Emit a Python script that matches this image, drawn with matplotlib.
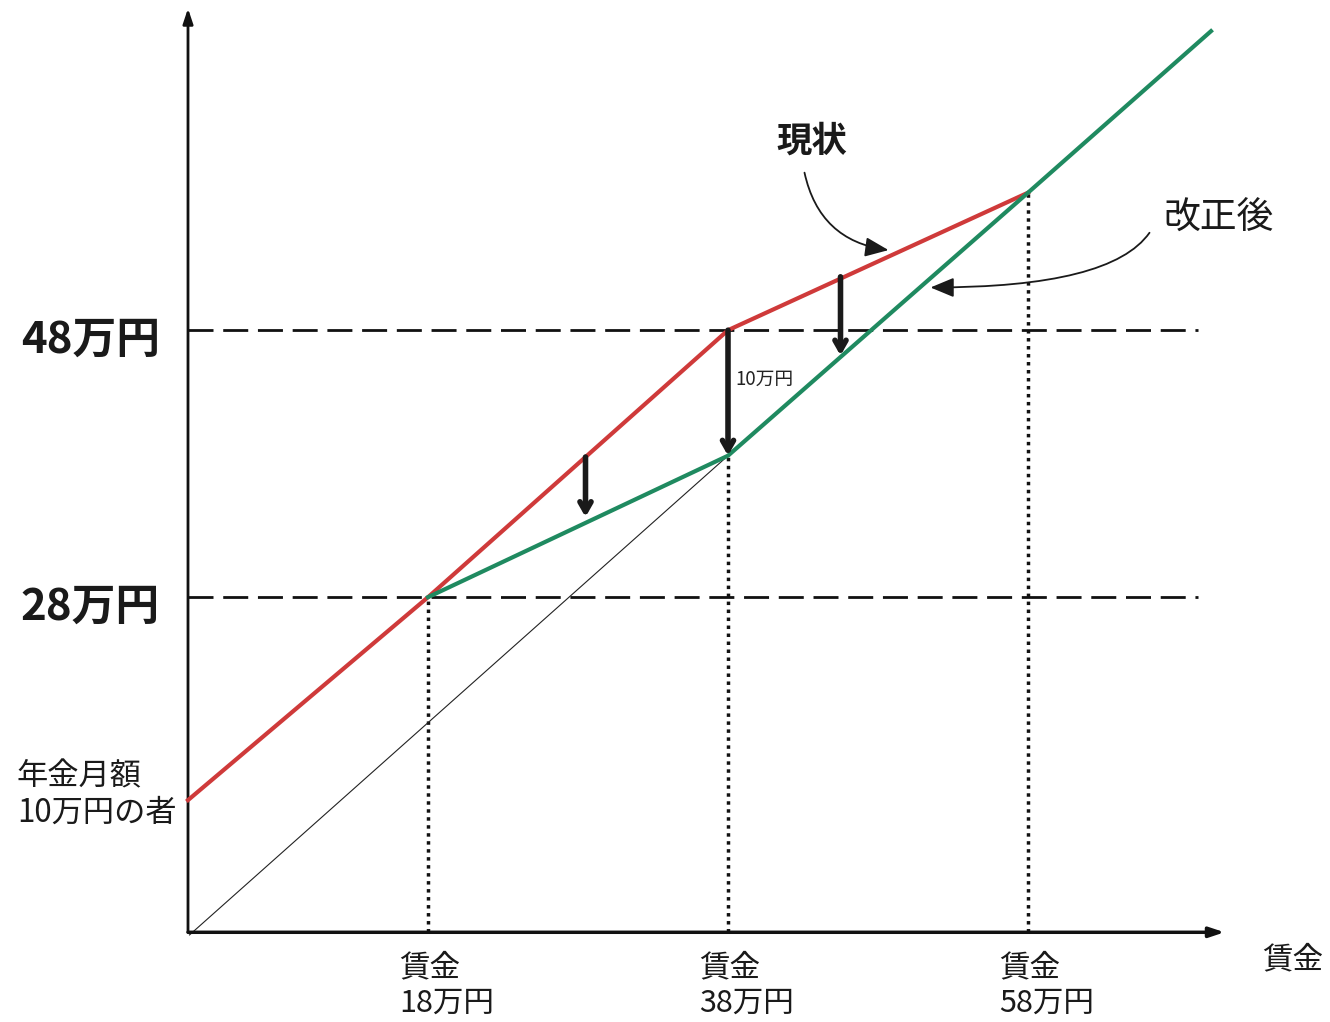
import numpy as np
import matplotlib
matplotlib.use('Agg')
import matplotlib.pyplot as plt

plt.rcParams['font.family'] = ['Noto Sans CJK JP', 'DejaVu Sans']

# schematic coordinates in 万円 (wage on x, wage + pension on y)
origin_x, origin_y = 2, 2.9
wage_ticks = [18, 38, 58]
wage_labels = ['賃金\n18万円', '賃金\n38万円', '賃金\n58万円']
levels = [28, 48]
level_labels = ['28万円', '48万円']

current_x = [2, 18, 38, 58]          # 現状
current_y = [12.8, 28, 48, 58.3]
revised_x = [18, 38, 58, 70.2]       # 改正後
revised_y = [28, 38.6, 58.3, 70.4]
diag_x = [2.1, 38]
diag_y = [2.7, 38.6]
dotted_top = [28, 38.6, 58.3]

arrow_x = [28.5, 38, 45.5]
arrow_from = [38.5, 48, 52.0]
arrow_to = [34.0, 38.6, 46.1]

red = '#cf3a3a'
green = '#1f8a60'

fig = plt.figure(figsize=(13.3, 10.22), dpi=100)
ax = fig.add_axes([0, 0, 1, 1])
ax.set_xlim(-158 / 15, (1330 - 158) / 15)
ax.set_ylim((971 - 1022) / 13.35, 971 / 13.35)
ax.axis('off')

# axes with arrow heads
ax.annotate('', xy=(origin_x, 72.1), xytext=(origin_x, origin_y),
            arrowprops=dict(arrowstyle='-|>,head_length=0.9,head_width=0.3', lw=2, color='#111111',
                            shrinkA=0, shrinkB=0))
ax.annotate('', xy=(71.1, origin_y), xytext=(origin_x, origin_y),
            arrowprops=dict(arrowstyle='-|>,head_length=0.9,head_width=0.3', lw=2.5, color='#111111',
                            shrinkA=0, shrinkB=0))

# reference levels
for lv in levels:
    ax.plot([origin_x, 69.3], [lv, lv], color='#111111', lw=2, linestyle=(0, (9, 3.5)), zorder=1)
for wx, top in zip(wage_ticks, dotted_top):
    ax.plot([wx, wx], [origin_y, top], color='#111111', lw=2.5, linestyle=(0, (1, 1.3)), zorder=1)

ax.plot(diag_x, diag_y, color='#222222', lw=0.8, zorder=2)
ax.plot(current_x, current_y, color=red, lw=3, zorder=3)
ax.plot(revised_x, revised_y, color=green, lw=3, zorder=3)

for x, y0, y1 in zip(arrow_x, arrow_from, arrow_to):
    ax.annotate('', xy=(x, y1), xytext=(x, y0),
                arrowprops=dict(arrowstyle='->,head_length=0.7,head_width=0.4', lw=4,
                                color='#1a1a1a', shrinkA=0, shrinkB=0), zorder=4)
ax.text(38.5, 44.3, '10万円', fontsize=13.5, ha='left', va='center', color='#222222')

# labels
for lv, lab in zip(levels, level_labels):
    ax.text(-4.5, lv - 0.7, lab, fontsize=31.5, fontweight='bold', ha='center', va='center', color='#1a1a1a')
ax.text(-9.4, 13.2, '年金月額\n10万円の者', fontsize=22.5, ha='left', va='center',
        linespacing=1.15, color='#1a1a1a')
for wx, lab in zip(wage_ticks, wage_labels):
    ax.text(wx - 1.9, 1.4, lab, fontsize=22, ha='left', va='top', linespacing=1.2, color='#1a1a1a')
ax.text(73.6, 0.8, '賃金', fontsize=22, ha='left', va='center', color='#1a1a1a')

ax.text(43.6, 62.2, '現状', fontsize=25.5, fontweight='bold', ha='center', va='center', color='#1a1a1a')
ax.annotate('', xy=(48.7, 54.0), xytext=(43.1, 59.8),
            arrowprops=dict(arrowstyle='-|>,head_length=0.6,head_width=0.25', lw=1.3, color='#1a1a1a',
                            connectionstyle='arc3,rad=0.35', shrinkA=0, shrinkB=0, mutation_scale=24))
ax.text(70.7, 56.4, '改正後', fontsize=26.5, ha='center', va='center', color='#1a1a1a')
ax.annotate('', xy=(51.5, 51.2), xytext=(66.1, 55.3),
            arrowprops=dict(arrowstyle='-|>,head_length=0.6,head_width=0.25', lw=1.3, color='#1a1a1a',
                            connectionstyle='angle3,angleA=55,angleB=0', shrinkA=0, shrinkB=0,
                            mutation_scale=24))

fig.savefig('out.png', dpi=100)
